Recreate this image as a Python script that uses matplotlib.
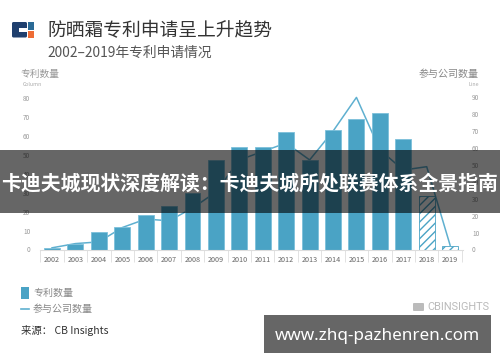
import matplotlib
matplotlib.use("Agg")
import matplotlib.pyplot as plt
import matplotlib.patches as patches

plt.rcParams['font.family'] = ['Noto Sans CJK SC', 'DejaVu Sans']
plt.rcParams['hatch.linewidth'] = 1.0

years = ['2002', '2003', '2004', '2005', '2006', '2007', '2008', '2009', '2010',
         '2011', '2012', '2013', '2014', '2015', '2016', '2017', '2018', '2019']
patents = [1, 3, 9, 12, 18, 23, 30, 47, 54, 54, 62, 47, 63, 69, 72, 58, 28, 2]
companies = [1, 3.5, 4.5, 13, 18, 17, 24.5, 34, 53, 58, 63, 53, 70, 90, 59, 47, 49, 2.5]
left_ticks = [0, 10, 20, 30, 40, 50, 60, 70, 80]
right_ticks = [0, 10, 20, 30, 40, 50, 60, 70, 80, 90]

BLUE = '#4aa3c5'
LINE = '#5fb0d0'
W, H = 500, 362

fig = plt.figure(figsize=(W / 100, H / 100), dpi=100, facecolor='white')

# plot area in pixels: x 40-463, y 90-249.5
ax = fig.add_axes([40 / W, 1 - 249.5 / H, 423 / W, 159.5 / H])
ax2 = ax.twinx()
ax.set_zorder(ax2.get_zorder() + 1)
ax.patch.set_visible(False)

pos = list(range(len(years)))
bars = ax.bar(pos, patents, width=0.68, color=BLUE, edgecolor='#7cc0da', linewidth=0.6)
for b in bars[-2:]:
    b.set_facecolor('white')
    b.set_edgecolor(BLUE)
    b.set_hatch('////')
ax2.plot(pos, companies, color=LINE, linewidth=1.1)

ax.set_xlim(-0.513, 17.55)
ax.set_ylim(0, 159.5 / 1.897)
ax2.set_ylim(0, 159.5 / 1.69)

ax.set_xticks(pos)
ax.set_xticklabels(years)
ax.set_xticks([p - 0.5 for p in pos] + [17.5], minor=True)
ax.tick_params(axis='x', which='major', length=0, pad=5, labelsize=5.2, labelcolor='#666666')
ax.tick_params(axis='x', which='minor', length=8.5, width=0.6, color='#dddddd')
ax.set_yticks(left_ticks)
ax.tick_params(axis='y', length=0, pad=7, labelsize=4.6, labelcolor='#999999')
ax2.set_yticks(right_ticks)
ax2.tick_params(axis='y', length=0, pad=6.5, labelsize=4.6, labelcolor='#999999')
for s in ['top', 'left', 'right']:
    ax.spines[s].set_visible(False)
    ax2.spines[s].set_visible(False)
ax.spines['bottom'].set_color('#dddddd')
ax.spines['bottom'].set_linewidth(0.8)
ax2.spines['bottom'].set_visible(False)

# everything else is placed in pixel coordinates on a full figure overlay
ov = fig.add_axes([0, 0, 1, 1], zorder=10)
ov.set_xlim(0, W)
ov.set_ylim(H, 0)
ov.axis('off')

# logo
ov.add_patch(patches.FancyBboxPatch((12, 22), 15, 15.5, boxstyle='round,pad=0,rounding_size=1.5',
                                    facecolor='#1f3f6e', edgecolor='none'))
ov.add_patch(patches.Rectangle((19, 28), 8, 3.5, facecolor='white', edgecolor='none'))
ov.add_patch(patches.Rectangle((27.8, 22), 6, 7.5, facecolor='#2a6a96', edgecolor='none'))
ov.add_patch(patches.Rectangle((27.8, 30.5), 6, 7, facecolor='#ee6c35', edgecolor='none'))

ov.text(47.5, 31, '防晒霜专利申请呈上升趋势', fontsize=13.5, color='#333333', va='center', ha='left',
        fontweight='medium')
ov.text(47.5, 53, '2002–2019年专利申请情况', fontsize=9.9, color='#555555', va='center', ha='left')
ov.text(20, 74, '专利数量', fontsize=7, color='#999999', va='center', ha='left')
ov.text(23, 84, 'Column', fontsize=3.8, color='#aaaaaa', va='center', ha='left')
ov.text(479, 74, '参与公司数量', fontsize=7.2, color='#888888', va='center', ha='right')
ov.text(479, 84, 'Line', fontsize=3.8, color='#aaaaaa', va='center', ha='right')

# legend
ov.add_patch(patches.Rectangle((21, 287), 8, 11.5, facecolor=BLUE, edgecolor='none'))
ov.plot([21, 29], [309, 309], color=LINE, linewidth=1.2)
ov.text(33, 293, '专利数量', fontsize=7.2, color='#888888', va='center', ha='left')
ov.text(33, 309, '参与公司数量', fontsize=7.2, color='#888888', va='center', ha='left')
ov.text(21, 330, '来源： CB Insights', fontsize=7.5, color='#333333', va='center', ha='left')

# CB Insights mark
ov.add_patch(patches.FancyBboxPatch((413, 303), 11, 8, boxstyle='round,pad=0,rounding_size=1',
                                    facecolor='#bbbbbb', edgecolor='none'))
ov.text(427, 306.5, 'CBINSIGHTS', fontsize=7.9, color='#bbbbbb', va='center', ha='left', family='Roboto')

# overlay banners
ov.add_patch(patches.Rectangle((0, 150), W, 63, facecolor='black', alpha=0.6, edgecolor='none'))
ov.text(250, 183, '卡迪夫城现状深度解读：卡迪夫城所处联赛体系全景指南', fontsize=14.3, color='white',
        fontweight='bold', va='center', ha='center')
ov.add_patch(patches.Rectangle((264, 315), 227, 38, facecolor='#666666', edgecolor='none'))
ov.text(377, 336, 'www.zhq-pazhenren.com', fontsize=12.3, color='white', fontweight='bold',
        va='center', ha='center', family='Noto Sans')

fig.savefig('out.png', dpi=100)
